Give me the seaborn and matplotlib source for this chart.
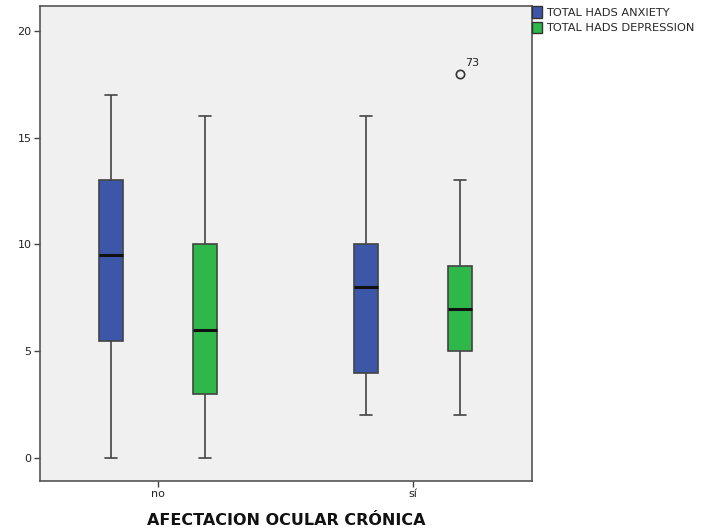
import numpy as np
import pandas as pd
import matplotlib
matplotlib.use("Agg")
import matplotlib.pyplot as plt
import seaborn as sns
from matplotlib.patches import Patch

# Groups and box summaries (whisker low, Q1, median, Q3, whisker high)
groups = ["no", "sí"]
series = ["TOTAL HADS ANXIETY", "TOTAL HADS DEPRESSION"]
box_group = ["no", "no", "sí", "sí"]
box_series = ["TOTAL HADS ANXIETY", "TOTAL HADS DEPRESSION",
              "TOTAL HADS ANXIETY", "TOTAL HADS DEPRESSION"]
whisker_low = [0, 0, 2, 2]
q1 = [5.5, 3, 4, 5]
median = [9.5, 6, 8, 7]
q3 = [13, 10, 10, 9]
whisker_high = [17, 16, 16, 13]
outliers = [[], [], [], [18]]
outlier_ids = [[], [], [], ["73"]]

colors = ["#3d57a8", "#2fb84a"]

# Expand each summary into a small sample whose quartiles reproduce it
rows = []
for g, s, lo, a, m, b, hi, out in zip(box_group, box_series, whisker_low, q1,
                                      median, q3, whisker_high, outliers):
    for v in [lo, a, a, m, m, b, b, hi] + list(out):
        rows.append({"grupo": g, "serie": s, "valor": v})
df = pd.DataFrame(rows)

sns.set_theme(style="white")
plt.rcParams["font.family"] = ["DejaVu Sans"]

fig = plt.figure(figsize=(7.08, 5.30), dpi=100)
ax = fig.add_axes([40 / 708, 1 - 481 / 530, (532 - 40) / 708, (481 - 6) / 530])
ax.set_facecolor("#f0f0f0")

sns.boxplot(
    data=df, x="grupo", y="valor", hue="serie", order=groups, hue_order=series,
    palette=colors, width=0.737, gap=0.745, whis=1.5, ax=ax, legend=False,
    linecolor="#444444", linewidth=1.2, saturation=1,
    medianprops=dict(color="#111111", linewidth=2.2),
    flierprops=dict(marker="o", markersize=6, markerfacecolor="none",
                    markeredgecolor="#333333", markeredgewidth=1.2),
)

# Label outliers with their case numbers
flier_lines = [ln for ln in ax.lines if ln.get_marker() == "o" and len(ln.get_xdata()) > 0]
ids = [i for lst in outlier_ids for i in lst]
k = 0
for ln in flier_lines:
    for xv, yv in zip(ln.get_xdata(), ln.get_ydata()):
        if k < len(ids):
            ax.annotate(ids[k], (xv, yv), xytext=(4, 4), textcoords="offset points",
                        fontsize=8, color="#222222", ha="left", va="bottom")
            k += 1

ax.set_ylim(-1.08, 21.17)
ax.set_xlim(-0.463, 1.467)
ax.set_yticks([0, 5, 10, 15, 20])
ax.tick_params(axis="both", length=4, width=1, color="#444444", labelsize=8,
               labelcolor="#222222", pad=2, left=True, bottom=True)
ax.set_xlabel("AFECTACION OCULAR CRÓNICA", fontsize=11.5, fontweight="bold",
              color="#111111", labelpad=10)
ax.set_ylabel("")
for sp in ax.spines.values():
    sp.set_color("#555555")
    sp.set_linewidth(1.2)
    sp.set_visible(True)

handles = [Patch(facecolor=c, edgecolor="#333333", linewidth=1) for c in colors]
fig.legend(handles, series, loc="upper left", bbox_to_anchor=(532 / 708, 1 - 6 / 530),
           frameon=False, fontsize=8.2, handlelength=0.9, handleheight=1.2,
           handletextpad=0.3, labelspacing=0.35, borderaxespad=0, borderpad=0)

fig.savefig("out.png", dpi=100)
